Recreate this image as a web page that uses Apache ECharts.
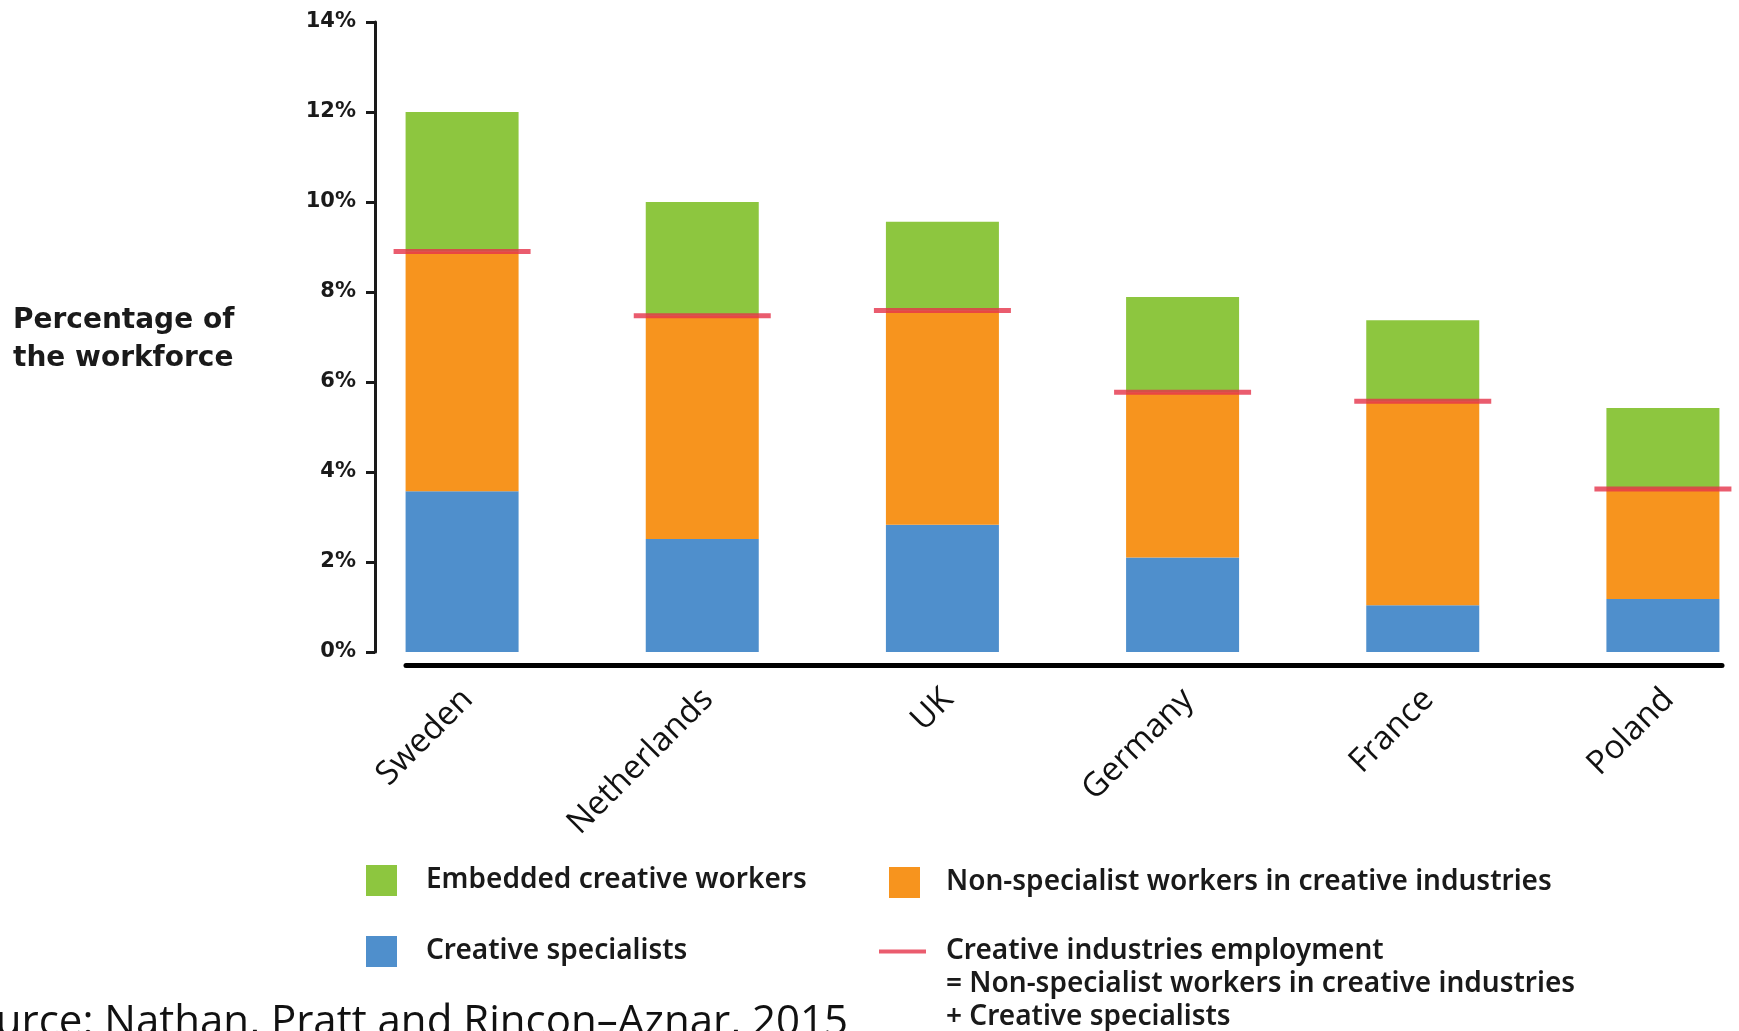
<!DOCTYPE html>
<html>
<head>
<meta charset="utf-8">
<script src="https://cdn.jsdelivr.net/npm/echarts@6/dist/echarts.min.js"></script>
<style>
  html, body { margin: 0; padding: 0; background: #fff; }
  #chart { width: 1739px; height: 1031px; }
</style>
</head>
<body>
<div id="chart"></div>
<script>
// Share of the workforce in creative jobs, by country (%)
const categories = ['Sweden', 'Netherlands', 'UK', 'Germany', 'France', 'Poland'];
const specialists = [3.57, 2.51, 2.83, 2.10, 1.04, 1.18];
const nonSpecialists = [5.33, 4.96, 4.76, 3.67, 4.53, 2.44];
const embedded = [3.10, 2.53, 1.97, 2.12, 1.80, 1.80];
const yTicks = { min: 0, max: 14, step: 2 };

// Creative industries employment = non-specialists + creative specialists
const creativeIndustries = specialists.map((v, i) => +(v + nonSpecialists[i]).toFixed(2));

const NAMES = {
  embedded: 'Embedded creative workers',
  nonSpec: 'Non-specialist workers in creative industries',
  spec: 'Creative specialists',
  ci: 'Creative industries employment'
};

const COLORS = { green: '#8dc63f', orange: '#f7941e', blue: '#4f8fcc', red: '#e5334a' };
const DARK = '#1a1a1a';
const LEGEND_FONT = { fontSize: 28, fontWeight: 600, color: DARK, lineHeight: 33, fontFamily: 'Noto Sans' };

function legendAt(name, left, top, extra) {
  return Object.assign({
    data: [name], left: left, top: top, padding: 0, itemGap: 0,
    itemWidth: 31, itemHeight: 31, icon: 'rect', selectedMode: false,
    textStyle: Object.assign({}, LEGEND_FONT, { padding: [0, 0, 0, 24] })
  }, extra || {});
}

const chart = echarts.init(document.getElementById('chart'), null, { renderer: 'canvas' });

chart.setOption({
  animation: false,
  backgroundColor: '#ffffff',
  textStyle: { fontFamily: 'Noto Sans' },
  title: [
    {
      text: 'Percentage of\nthe workforce', left: 13, top: 302, padding: 0,
      textStyle: { fontSize: 28, fontWeight: 'bold', lineHeight: 38, color: DARK, fontFamily: 'DejaVu Sans' }
    },
    {
      text: '= Non-specialist workers in creative industries\n+ Creative specialists',
      left: 946, top: 968, padding: 0,
      textStyle: Object.assign({}, LEGEND_FONT)
    }
  ],
  legend: [
    legendAt(NAMES.embedded, 366, 864),
    legendAt(NAMES.nonSpec, 889, 866, {
      textStyle: Object.assign({}, LEGEND_FONT, { padding: [0, 0, 0, 21] })
    }),
    legendAt(NAMES.spec, 366, 935),
    legendAt(NAMES.ci, 879, 935, {
      itemWidth: 47, itemHeight: 4,
      textStyle: Object.assign({}, LEGEND_FONT, { padding: [0, 0, 0, 15] })
    })
  ],
  grid: [
    { left: 342, width: 1441, top: 22, height: 630, outerBoundsMode: 'none', containLabel: false },
    { left: 406, right: 17, top: 600, height: 65, outerBoundsMode: 'none' }
  ],
  xAxis: [
    {
      type: 'category', gridIndex: 0, data: categories,
      axisLine: { show: false }, axisTick: { show: false },
      axisLabel: {
        rotate: 45, margin: 48, fontSize: 33, fontFamily: 'Open Sans', color: '#111',
        padding: [0, -8, 0, 0]
      }
    },
    {
      type: 'value', gridIndex: 1, min: 0, max: 1,
      axisLine: { show: true, lineStyle: { color: '#000', width: 5 } },
      axisTick: { show: false }, axisLabel: { show: false }, splitLine: { show: false }
    }
  ],
  yAxis: [
    {
      type: 'value', gridIndex: 0, min: yTicks.min, max: yTicks.max, interval: yTicks.step,
      offset: -33,
      axisLine: { show: true, lineStyle: { color: DARK, width: 3 } },
      axisTick: { show: true, length: 9, lineStyle: { color: DARK, width: 3 } },
      axisLabel: { formatter: '{value}%', fontWeight: 'bold', fontSize: 21, margin: 19, color: DARK, fontFamily: 'DejaVu Sans' },
      splitLine: { show: false }
    },
    { type: 'value', gridIndex: 1, show: false, min: 0, max: 1 }
  ],
  series: [
    {
      name: NAMES.spec, type: 'bar', stack: 'total', data: specialists,
      barWidth: 113, itemStyle: { color: COLORS.blue }
    },
    {
      name: NAMES.nonSpec, type: 'bar', stack: 'total', data: nonSpecialists,
      barWidth: 113, itemStyle: { color: COLORS.orange }
    },
    {
      name: NAMES.embedded, type: 'bar', stack: 'total', data: embedded,
      barWidth: 113, itemStyle: { color: COLORS.green }
    },
    {
      name: NAMES.ci, type: 'scatter', data: creativeIndustries,
      symbol: 'rect', symbolSize: [137, 5], z: 5,
      itemStyle: { color: COLORS.red }
    }
  ],
  graphic: [
    {
      type: 'text', right: 891, top: 1002,
      style: { text: 'Source: Nathan, Pratt and Rincon\u2013Aznar, 2015', font: '42px "Open Sans"', fill: '#111' }
    }
  ]
});
</script>
</body>
</html>
